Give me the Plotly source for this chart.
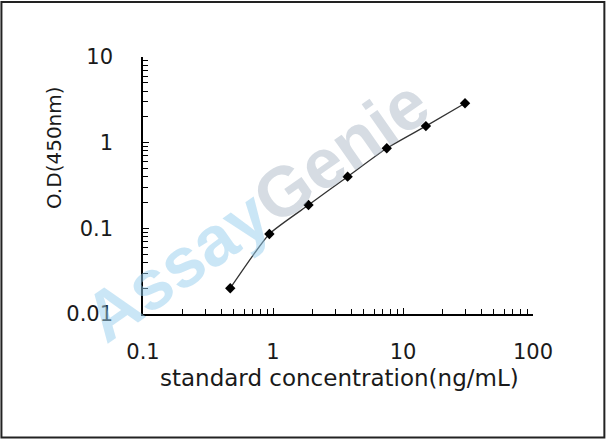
import plotly.graph_objects as go

# courbe standard ELISA
concentration = [0.469, 0.938, 1.875, 3.75, 7.5, 15, 30]
od_450 = [0.020, 0.086, 0.187, 0.401, 0.859, 1.56, 2.88]

x_title = "standard concentration(ng/mL)"
y_title = "O.D(450nm)"

tick_font = dict(family="DejaVu Sans", size=21, color="#1a1a1a")

fig = go.Figure()

fig.add_trace(
    go.Scatter(
        x=concentration,
        y=od_450,
        mode="lines+markers",
        line=dict(color="#333333", width=1.3, shape="spline", smoothing=0.5),
        marker=dict(symbol="diamond", size=8, color="black"),
        showlegend=False,
    )
)

axis_common = dict(
    type="log",
    showgrid=False,
    zeroline=False,
    showline=True,
    linecolor="black",
    linewidth=1.5,
    ticks="inside",
    ticklen=6,
    tickwidth=1,
    tickcolor="black",
    dtick=1,
    tickfont=tick_font,
    minor=dict(ticks="inside", ticklen=5, tickwidth=1, tickcolor="black", dtick="D1", showgrid=False),
)

fig.update_xaxes(range=[-1, 2], ticklabelstandoff=18, **axis_common)
fig.update_yaxes(range=[-2, 1], ticklabelstandoff=24, **axis_common)

# filigrane
fig.add_annotation(
    x=0.292, y=0.405, xref="paper", yref="paper",
    xanchor="center", yanchor="middle",
    text="<span style='color:rgba(150,205,238,0.5)'>Assay</span>"
         "<span style='color:rgba(165,178,192,0.45)'>Genie</span>",
    textangle=-35,
    showarrow=False,
    font=dict(family="Liberation Sans, Arial", size=70, weight="bold"),
)

# titres des axes
fig.add_annotation(
    x=0.503, y=-0.249, xref="paper", yref="paper",
    xanchor="center", yanchor="middle",
    text=x_title, showarrow=False,
    font=dict(family="DejaVu Sans", size=23, color="#1a1a1a"),
)
fig.add_annotation(
    x=-0.228, y=0.646, xref="paper", yref="paper",
    xanchor="center", yanchor="middle",
    text=y_title, textangle=-90, showarrow=False,
    font=dict(family="DejaVu Sans", size=20, color="#1a1a1a"),
)

# cadre autour de l'image
fig.add_shape(
    type="rect", xref="paper", yref="paper",
    x0=-0.363, x1=1.183, y0=-0.481, y1=1.214,
    line=dict(color="#222222", width=2),
)

fig.update_layout(
    width=608,
    height=441,
    margin=dict(l=143, r=75, t=57, b=127),
    paper_bgcolor="white",
    plot_bgcolor="white",
)

fig.write_html(
    "out.html",
    config={"displayModeBar": False},
    post_script="document.body.style.margin='0';",
)
